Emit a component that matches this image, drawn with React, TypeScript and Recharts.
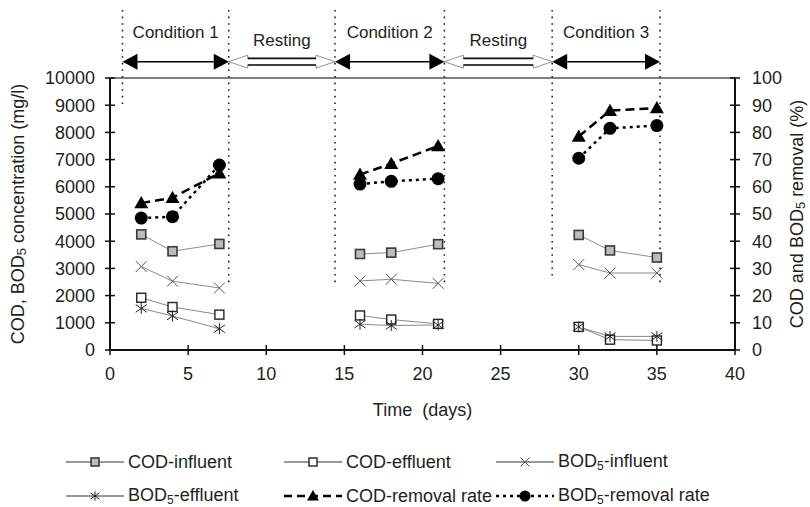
import React from 'react';
import { ComposedChart, Line, XAxis, YAxis, ReferenceLine } from 'recharts';

// sampling days and which run (condition) each belongs to
const days = [2, 4, 7, 16, 18, 21, 30, 32, 35];
const runs = [1, 1, 1, 2, 2, 2, 3, 3, 3];

// concentrations (mg/l)
const codInfluent = [4250, 3630, 3900, 3530, 3580, 3890, 4230, 3660, 3400];
const codEffluent = [1920, 1580, 1300, 1270, 1120, 960, 850, 380, 350];
const bodInfluent = [3070, 2530, 2280, 2540, 2600, 2450, 3140, 2830, 2830];
const bodEffluent = [1530, 1250, 780, 950, 900, 920, 850, 500, 500];

// removal (%)
const codRemoval = [54, 56, 65, 64.5, 68.5, 75, 78.5, 88, 89];
const bodRemoval = [48.5, 49, 68, 61, 62, 63, 70.5, 81.5, 82.5];

const xTicks = [0, 5, 10, 15, 20, 25, 30, 35, 40];
const leftTicks = [0, 1000, 2000, 3000, 4000, 5000, 6000, 7000, 8000, 9000, 10000];
const rightTicks = [0, 10, 20, 30, 40, 50, 60, 70, 80, 90, 100];

// operating periods shown above the plot
const periodNames = ['Condition 1', 'Resting', 'Condition 2', 'Resting', 'Condition 3'];
const periodEdges = [0.8, 7.6, 14.4, 21.4, 28.3, 35.2];
const edgeBottoms = [9000, 2400, 2400, 2400, 2600, 2400];
const arrowLevel = 10600;
const edgeTop = 12500;

const FONT = '"Liberation Sans", Arial, Helvetica, sans-serif';
const TXT = '#231f20';

const rows: any[] = [];
days.forEach((d, i) => {
  if (i > 0 && runs[i] !== runs[i - 1]) {
    rows.push({ day: (days[i - 1] + d) / 2, codIn: null, codEff: null, bodIn: null, bodEff: null, codRem: null, bodRem: null });
  }
  rows.push({
    day: d,
    codIn: codInfluent[i],
    codEff: codEffluent[i],
    bodIn: bodInfluent[i],
    bodEff: bodEffluent[i],
    codRem: codRemoval[i],
    bodRem: bodRemoval[i],
  });
});

// marker shapes, shared by the chart and the legend
const markGraySquare = (cx: number, cy: number, s = 9) => (
  <rect x={cx - s / 2} y={cy - s / 2} width={s} height={s} fill="#bcbcbc" stroke="#3a3a3a" strokeWidth={1.6} />
);
const markWhiteSquare = (cx: number, cy: number, s = 9) => (
  <rect x={cx - s / 2} y={cy - s / 2} width={s} height={s} fill="#fff" stroke="#222" strokeWidth={1.4} />
);
const markCross = (cx: number, cy: number, s = 5.5) => (
  <path d={`M${cx - s},${cy - s}L${cx + s},${cy + s}M${cx - s},${cy + s}L${cx + s},${cy - s}`} stroke="#555" strokeWidth={1} fill="none" />
);
const markStar = (cx: number, cy: number, s = 5.5) => (
  <path
    d={`M${cx - s},${cy - s * 0.7}L${cx + s},${cy + s * 0.7}M${cx - s},${cy + s * 0.7}L${cx + s},${cy - s * 0.7}M${cx},${cy - s}L${cx},${cy + s}`}
    stroke="#222" strokeWidth={1} fill="none"
  />
);
const markTriangle = (cx: number, cy: number, s = 7) => (
  <path d={`M${cx},${cy - s}L${cx + s},${cy + s * 0.75}L${cx - s},${cy + s * 0.75}Z`} fill="#000" />
);
const markCircle = (cx: number, cy: number, r = 6.5) => <circle cx={cx} cy={cy} r={r} fill="#000" />;

const dotFrom = (fn: (cx: number, cy: number) => any) => (p: any) => {
  if (p.cx == null || p.cy == null || p.value == null) return <g key={p.key} />;
  return <g key={p.key}>{fn(p.cx, p.cy)}</g>;
};

const TS = 4; // tick size
const LeftTick = (p: any) => {
  const ax = p.x + TS + 11;
  return (
    <g>
      <line x1={ax - 5} x2={ax + 5} y1={p.y} y2={p.y} stroke="#111" strokeWidth={1.5} />
      <text x={p.x} y={p.y} dy="0.36em" textAnchor="end" fontSize={18} fontFamily={FONT} fill={TXT}>{p.payload.value}</text>
    </g>
  );
};
const RightTick = (p: any) => {
  const ax = p.x - TS - 13;
  return (
    <g>
      <line x1={ax - 5} x2={ax + 5} y1={p.y} y2={p.y} stroke="#111" strokeWidth={1.5} />
      <text x={p.x} y={p.y} dy="0.36em" textAnchor="start" fontSize={18} fontFamily={FONT} fill={TXT}>{p.payload.value}</text>
    </g>
  );
};
const BottomTick = (p: any) => {
  const ay = p.y - TS - 12;
  return (
    <g>
      <line x1={p.x} x2={p.x} y1={ay - 5} y2={ay + 5} stroke="#111" strokeWidth={1.5} />
      <text x={p.x} y={p.y} dy="0.75em" textAnchor="middle" fontSize={18} fontFamily={FONT} fill={TXT}>{p.payload.value}</text>
    </g>
  );
};

const PeriodArrow = (p: any) => {
  const { x1, x2, y1, name, resting } = p;
  const y = y1;
  const mid = (x1 + x2) / 2;
  if (resting) {
    const hl = 19, hh = 6.5, sh = 3.3;
    return (
      <g>
        <path
          d={`M${x1},${y}L${x1 + hl},${y - hh}L${x1 + hl},${y - sh}L${x2 - hl},${y - sh}L${x2 - hl},${y - hh}L${x2},${y}L${x2 - hl},${y + hh}L${x2 - hl},${y + sh}L${x1 + hl},${y + sh}L${x1 + hl},${y + hh}Z`}
          fill="#fff" stroke="#777" strokeWidth={0.8}
        />
        <line x1={x1 + hl} x2={x2 - hl} y1={y - sh} y2={y - sh} stroke="#111" strokeWidth={1.6} />
        <line x1={x1 + hl} x2={x2 - hl} y1={y + sh} y2={y + sh} stroke="#111" strokeWidth={1.6} />
        <text x={mid} y={y - 16} textAnchor="middle" fontSize={17} fontFamily={FONT} fill={TXT}>{name}</text>
      </g>
    );
  }
  const hl = 15, hh = 8;
  return (
    <g>
      <line x1={x1 + hl} x2={x2 - hl} y1={y} y2={y} stroke="#000" strokeWidth={1.6} />
      <path d={`M${x1},${y}L${x1 + hl},${y - hh}L${x1 + hl},${y + hh}Z`} fill="#000" />
      <path d={`M${x2},${y}L${x2 - hl},${y - hh}L${x2 - hl},${y + hh}Z`} fill="#000" />
      <text x={mid} y={y - 24} textAnchor="middle" fontSize={17} fontFamily={FONT} fill={TXT}>{name}</text>
    </g>
  );
};

const LeftTitle = (p: any) => {
  const vb = p.viewBox;
  const cx = vb.x + 10;
  const cy = vb.y + vb.height / 2;
  return (
    <text x={cx} y={cy} transform={`rotate(-90, ${cx}, ${cy})`} textAnchor="middle" dominantBaseline="central" fontSize={18} fontFamily={FONT} fill={TXT}>
      COD, BOD<tspan fontSize={13} dy={3}>5</tspan><tspan dy={-3}> concentration (mg/l)</tspan>
    </text>
  );
};
const RightTitle = (p: any) => {
  const vb = p.viewBox;
  const cx = vb.x + 62;
  const cy = vb.y + vb.height / 2;
  return (
    <text x={cx} y={cy} transform={`rotate(-90, ${cx}, ${cy})`} textAnchor="middle" dominantBaseline="central" fontSize={18} fontFamily={FONT} fill={TXT}>
      COD and BOD<tspan fontSize={13} dy={3}>5</tspan><tspan dy={-3}> removal (%)</tspan>
    </text>
  );
};
const BottomTitle = (p: any) => {
  const vb = p.viewBox;
  return (
    <text x={vb.x + vb.width / 2} y={vb.y + 66} textAnchor="middle" fontSize={18} fontFamily={FONT} fill={TXT}>
      {'Time\u00a0 (days)'}
    </text>
  );
};

const legendItems = [
  { label: ['COD-influent'], mark: markGraySquare, dash: undefined, width: 1, color: '#333' },
  { label: ['COD-effluent'], mark: markWhiteSquare, dash: undefined, width: 1, color: '#333' },
  { label: ['BOD', '-influent'], mark: markCross, dash: undefined, width: 1, color: '#333' },
  { label: ['BOD', '-effluent'], mark: markStar, dash: undefined, width: 1, color: '#333' },
  { label: ['COD-removal rate'], mark: markTriangle, dash: '8 5', width: 2.5, color: '#000' },
  { label: ['BOD', '-removal rate'], mark: markCircle, dash: '3 4', width: 2.5, color: '#000' },
];
const legendCols = [65, 283, 495];
const legendRows = [462, 496];

function ChartLegend() {
  return (
    <>
      {legendItems.map((it, i) => {
        const left = legendCols[i % 3];
        const top = legendRows[Math.floor(i / 3)] - 11;
        const smallMark = (cx: number, cy: number) => {
          if (it.mark === markGraySquare || it.mark === markWhiteSquare) return it.mark(cx, cy, 8);
          if (it.mark === markCircle) return markCircle(cx, cy, 5.5);
          if (it.mark === markTriangle) return markTriangle(cx, cy, 6);
          return it.mark(cx, cy, 4.5);
        };
        return (
          <div key={i} style={{ position: 'absolute', left, top, height: 22, display: 'flex', alignItems: 'center', whiteSpace: 'nowrap' }}>
            <svg width={60} height={22} style={{ display: 'block' }}>
              <line x1={1} x2={59} y1={11} y2={11} stroke={it.color} strokeWidth={it.width} strokeDasharray={it.dash} />
              {smallMark(30, 11)}
            </svg>
            <span style={{ fontFamily: FONT, fontSize: 18, color: TXT, marginLeft: 3 }}>
              {it.label[0]}
              {it.label.length > 1 && (
                <>
                  <sub style={{ fontSize: 12, verticalAlign: '-3px' }}>5</sub>
                  {it.label[1]}
                </>
              )}
            </span>
          </div>
        );
      })}
    </>
  );
}

export default function App() {
  return (
    <div style={{ position: 'absolute', left: 0, top: 0, width: 810, height: 507, background: '#fff' }}>
      <ComposedChart width={810} height={440} data={rows} margin={{ top: 78, right: 5, bottom: 30, left: 8 }}>
        <XAxis
          dataKey="day" type="number" domain={[0, 40]} ticks={xTicks} interval={0}
          tickSize={TS} tickMargin={12} tickLine={false} tick={<BottomTick />}
          axisLine={{ stroke: '#111', strokeWidth: 2 }} height={60}
          label={{ content: (p: any) => <BottomTitle {...p} /> }}
        />
        <YAxis
          yAxisId="left" domain={[0, 10000]} ticks={leftTicks} interval={0} width={102}
          tickSize={TS} tickMargin={11} tickLine={false} tick={<LeftTick />}
          axisLine={{ stroke: '#111', strokeWidth: 2 }}
          label={{ content: (p: any) => <LeftTitle {...p} /> }}
        />
        <YAxis
          yAxisId="right" orientation="right" domain={[0, 100]} ticks={rightTicks} interval={0} width={70}
          tickSize={TS} tickMargin={13} tickLine={false} tick={<RightTick />}
          axisLine={{ stroke: '#111', strokeWidth: 2 }}
          label={{ content: (p: any) => <RightTitle {...p} /> }}
        />

        <ReferenceLine yAxisId="left" y={10000} stroke="#555" strokeWidth={1.5} />

        {periodEdges.map((x, i) => (
          <ReferenceLine
            key={`edge-${i}`} yAxisId="left" ifOverflow="visible"
            segment={[{ x, y: edgeTop }, { x, y: edgeBottoms[i] }]}
            stroke="#222" strokeWidth={1.6} strokeDasharray="1.6 5"
          />
        ))}
        {periodNames.map((name, i) => (
          <ReferenceLine
            key={`period-${i}`} yAxisId="left" ifOverflow="visible"
            segment={[{ x: periodEdges[i], y: arrowLevel }, { x: periodEdges[i + 1], y: arrowLevel }]}
            shape={(p: any) => <PeriodArrow {...p} name={name} resting={name === 'Resting'} />}
          />
        ))}

        <Line yAxisId="left" dataKey="codIn" stroke="#8a8a8a" strokeWidth={1} isAnimationActive={false} dot={dotFrom(markGraySquare)} activeDot={false} />
        <Line yAxisId="left" dataKey="bodIn" stroke="#8a8a8a" strokeWidth={1} isAnimationActive={false} dot={dotFrom(markCross)} activeDot={false} />
        <Line yAxisId="left" dataKey="codEff" stroke="#8a8a8a" strokeWidth={1} isAnimationActive={false} dot={dotFrom(markWhiteSquare)} activeDot={false} />
        <Line yAxisId="left" dataKey="bodEff" stroke="#8a8a8a" strokeWidth={1} isAnimationActive={false} dot={dotFrom(markStar)} activeDot={false} />
        <Line yAxisId="right" dataKey="codRem" stroke="#000" strokeWidth={2.5} strokeDasharray="9 5" isAnimationActive={false} dot={dotFrom(markTriangle)} activeDot={false} />
        <Line yAxisId="right" dataKey="bodRem" stroke="#000" strokeWidth={2.5} strokeDasharray="3 4" isAnimationActive={false} dot={dotFrom(markCircle)} activeDot={false} />
      </ComposedChart>
      <ChartLegend />
    </div>
  );
}
